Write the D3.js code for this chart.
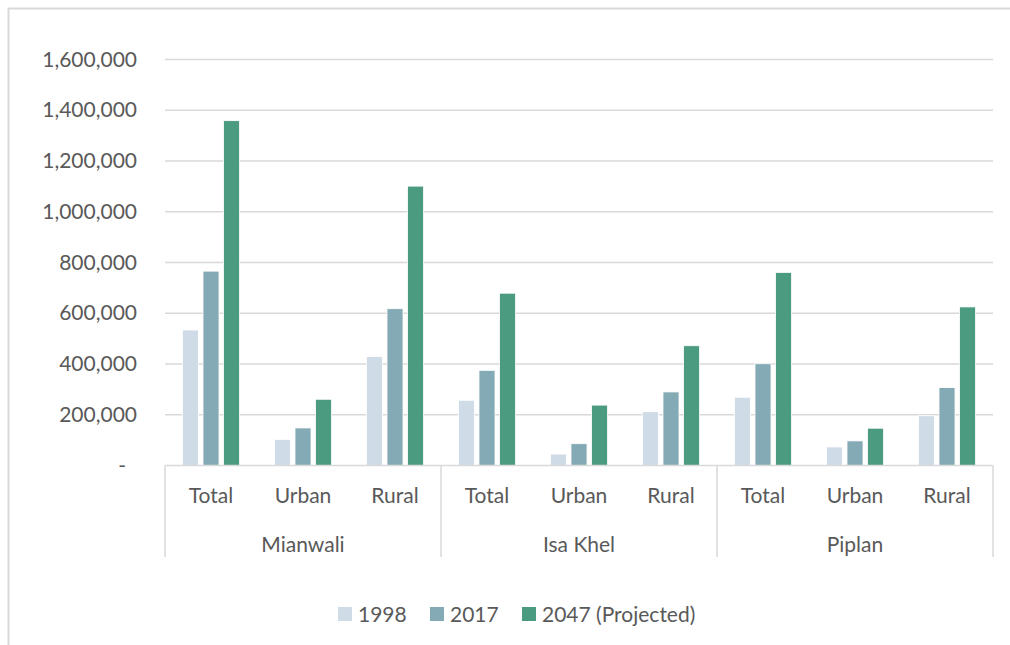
<!DOCTYPE html>
<html>
<head>
<meta charset="utf-8">
<script src="https://cdn.jsdelivr.net/npm/d3@7"></script>
<style>
  html, body { margin: 0; padding: 0; background: #fff; }
  svg { display: block; font-family: Lato, "Open Sans", sans-serif; }
</style>
</head>
<body>
<svg id="chart" width="1010" height="645"></svg>
<script>
// Population by tehsil and area type
const regions = ["Mianwali", "Isa Khel", "Piplan"];
const areas = ["Total", "Urban", "Rural"];
const seriesNames = ["1998", "2017", "2047 (Projected)"];
const seriesColors = ["#cfdbe6", "#84aab5", "#4b9b80"];

const pop1998 = [534000, 103000, 430000, 257000, 45000, 212000, 269000, 73000, 196000];
const pop2017 = [766000, 148000, 618000, 375000, 86000, 290000, 401000, 97000, 307000];
const pop2047 = [1359000, 261000, 1101000, 679000, 238000, 472000, 761000, 147000, 625000];

const yTicks = [0, 200000, 400000, 600000, 800000, 1000000, 1200000, 1400000, 1600000];
const yTickLabels = ["-", "200,000", "400,000", "600,000", "800,000", "1,000,000", "1,200,000", "1,400,000", "1,600,000"];

const series = [pop1998, pop2017, pop2047];
const categories = [];
regions.forEach(r => areas.forEach(a => categories.push(r + "|" + a)));

const svg = d3.select("#chart");
const plotLeft = 165, plotRight = 993, plotTop = 59.5, plotBottom = 465.5;
const textColor = "#595959";
const lineColor = "#d9d9d9";
const fontSize = "21px";

// outer frame
svg.append("path")
  .attr("d", "M8.5,650 V8.5 H1020")
  .attr("fill", "none").attr("stroke", lineColor).attr("stroke-width", 2);

const x = d3.scaleBand().domain(categories).range([plotLeft, plotRight]).paddingInner(0).paddingOuter(0);
const xs = d3.scaleBand().domain(seriesNames).range([0, x.bandwidth()]).paddingInner(0.22).paddingOuter(0.85);
const y = d3.scaleLinear().domain([0, 1600000]).range([plotBottom, plotTop]);

// horizontal gridlines
svg.append("g").selectAll("line").data(yTicks.slice(1)).join("line")
  .attr("x1", plotLeft).attr("x2", plotRight)
  .attr("y1", d => y(d)).attr("y2", d => y(d))
  .attr("stroke", lineColor).attr("stroke-width", 1.5);

// y axis labels
const yAxis = d3.axisLeft(y).tickValues(yTicks)
  .tickFormat((d, i) => yTickLabels[i]).tickSize(0).tickPadding(28);
const yg = svg.append("g").attr("transform", `translate(${plotLeft},0)`).call(yAxis);
yg.select(".domain").remove();
yg.selectAll("text").attr("fill", textColor).style("font-size", fontSize)
  .style("font-family", "Lato, 'Open Sans', sans-serif")
  .attr("dx", (d, i) => i === 0 ? -11 : 0)
  .attr("dy", "0.32em");

// bars
series.forEach((vals, si) => {
  svg.append("g").selectAll("rect").data(vals).join("rect")
    .attr("x", (d, i) => x(categories[i]) + xs(seriesNames[si]))
    .attr("width", xs.bandwidth())
    .attr("y", d => y(d))
    .attr("height", d => y(0) - y(d))
    .attr("fill", seriesColors[si])
    .attr("stroke", "#ffffff").attr("stroke-width", 0.8);
});

// category axis: baseline and group dividers
svg.append("line").attr("x1", plotLeft).attr("x2", plotRight)
  .attr("y1", plotBottom).attr("y2", plotBottom)
  .attr("stroke", lineColor).attr("stroke-width", 1.5);

const groupWidth = x.bandwidth() * areas.length;
const dividers = d3.range(regions.length + 1).map(i => plotLeft + i * groupWidth);
svg.append("g").selectAll("line").data(dividers).join("line")
  .attr("x1", d => d).attr("x2", d => d)
  .attr("y1", plotBottom).attr("y2", 557)
  .attr("stroke", lineColor).attr("stroke-width", 1.5);

// area labels
svg.append("g").selectAll("text").data(categories).join("text")
  .attr("x", d => x(d) + x.bandwidth() / 2)
  .attr("y", 503)
  .attr("text-anchor", "middle")
  .attr("fill", textColor).style("font-size", fontSize)
  .text(d => d.split("|")[1]);

// region labels
svg.append("g").selectAll("text").data(regions).join("text")
  .attr("x", (d, i) => plotLeft + (i + 0.5) * groupWidth)
  .attr("y", 552)
  .attr("text-anchor", "middle")
  .attr("fill", textColor).style("font-size", fontSize)
  .text(d => d);

// legend
const legendX = [338, 430, 522];
const lg = svg.append("g");
seriesNames.forEach((name, i) => {
  lg.append("rect").attr("x", legendX[i]).attr("y", 607)
    .attr("width", 14).attr("height", 14).attr("fill", seriesColors[i]);
  lg.append("text").attr("x", legendX[i] + 20).attr("y", 621.5)
    .attr("fill", textColor).style("font-size", fontSize).text(name);
});
</script>
</body>
</html>
